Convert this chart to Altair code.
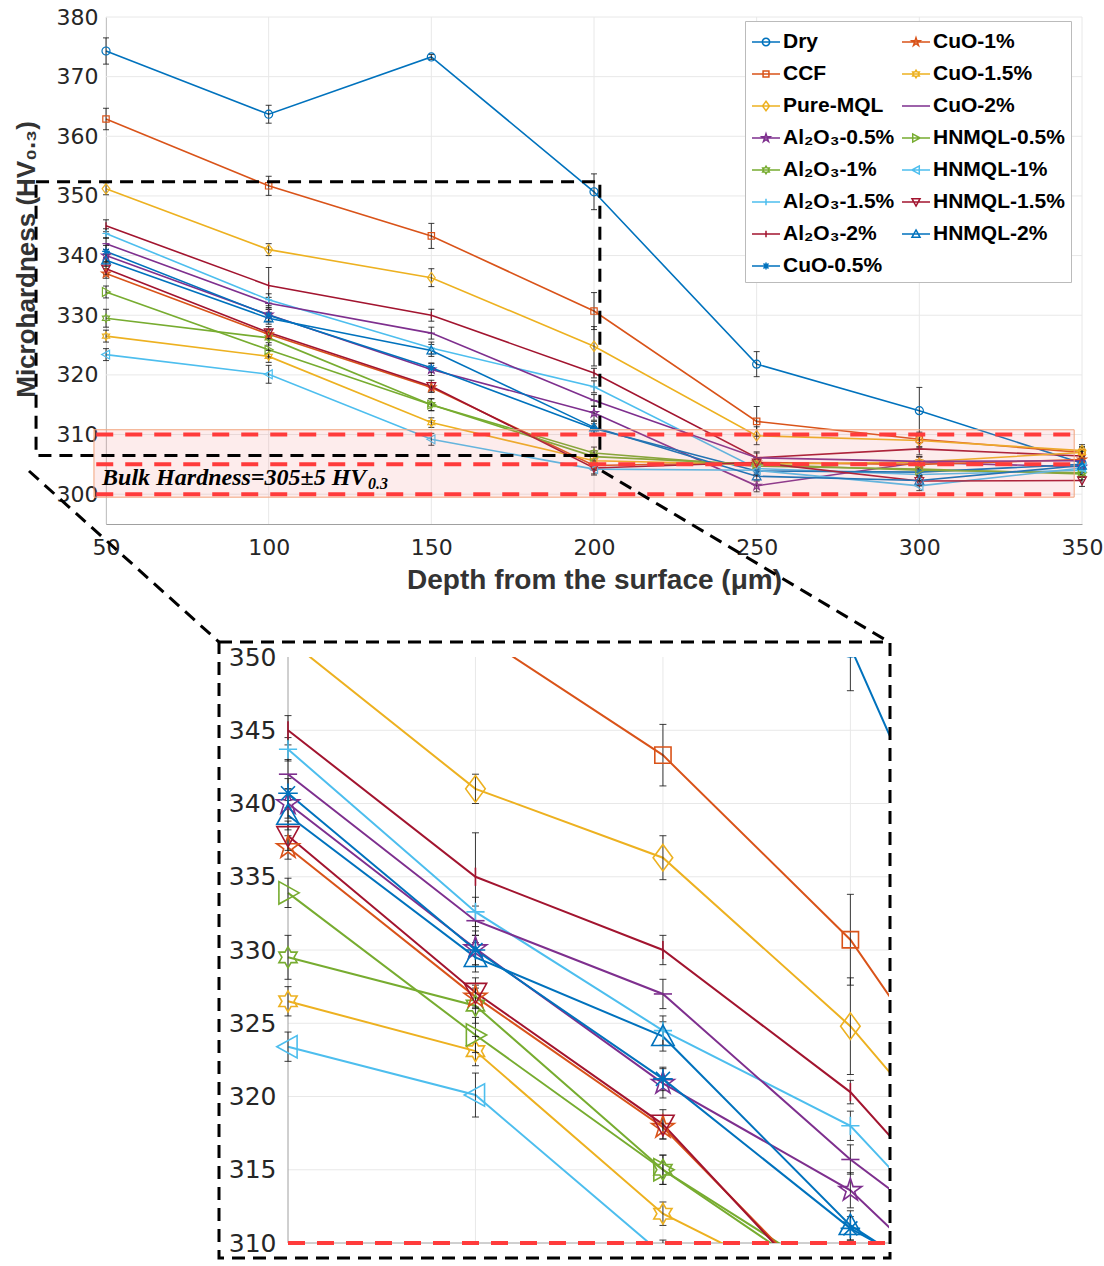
import math
import altair as alt
import pandas as pd

# ---------------- data ----------------
depth = [50, 100, 150, 200, 250, 300, 350]

names = ["Dry", "CCF", "Pure-MQL", "Al₂O₃-0.5%", "Al₂O₃-1%", "Al₂O₃-1.5%", "Al₂O₃-2%",
         "CuO-0.5%", "CuO-1%", "CuO-1.5%", "CuO-2%",
         "HNMQL-0.5%", "HNMQL-1%", "HNMQL-1.5%", "HNMQL-2%"]

dry      = [374.3, 363.7, 373.3, 350.7, 321.8, 314.0, 305.2]
ccf      = [362.9, 351.7, 343.3, 330.7, 312.2, 309.2, 307.0]
pure_mql = [351.2, 341.0, 336.3, 324.8, 309.8, 309.0, 307.3]
al_05    = [340.0, 330.1, 320.9, 313.6, 301.4, 305.3, 304.6]
al_1     = [329.5, 326.2, 315.0, 306.9, 304.7, 304.2, 303.4]
al_15    = [343.7, 332.6, 324.5, 318.0, 304.3, 303.3, 304.0]
al_2     = [345.0, 335.0, 330.0, 320.3, 306.1, 307.6, 306.4]
cuo_05   = [340.7, 330.0, 321.2, 311.0, 303.9, 303.7, 305.0]
cuo_1    = [337.0, 326.8, 317.9, 304.8, 305.3, 305.0, 305.8]
cuo_15   = [326.5, 323.1, 312.0, 305.6, 305.0, 305.4, 307.0]
cuo_2    = [342.0, 332.0, 327.0, 315.7, 306.1, 305.5, 305.6]
hn_05    = [333.9, 324.2, 315.0, 306.3, 305.0, 304.0, 303.6]
hn_1     = [323.4, 320.1, 309.2, 304.2, 304.0, 301.4, 304.4]
hn_15    = [337.8, 327.1, 318.1, 304.4, 305.3, 302.2, 302.3]
hn_2     = [339.2, 329.5, 324.1, 311.2, 303.0, 302.3, 304.8]

dry_err      = [2.2, 1.5, 0.4, 3.0, 2.1, 3.9, 2.0]
ccf_err      = [1.8, 1.6, 2.1, 3.1, 2.5, 1.2, 1.0]
pure_mql_err = [1.0, 1.0, 1.5, 3.3, 1.5, 1.2, 1.0]
al_05_err    = [1.0, 1.2, 1.0, 1.2, 1.0, 1.0, 1.0]
al_1_err     = [1.5, 1.2, 1.0, 1.0, 1.0, 1.0, 1.0]
al_15_err    = [0.8, 1.0, 1.0, 1.0, 1.0, 1.0, 1.0]
al_2_err     = [1.0, 3.0, 1.0, 0.8, 1.0, 1.0, 1.0]
cuo_05_err   = [1.0, 1.0, 0.8, 0.8, 0.8, 0.8, 0.8]
cuo_1_err    = [0.8, 0.8, 0.8, 0.8, 0.8, 0.8, 0.8]
cuo_15_err   = [1.0, 1.0, 0.8, 0.8, 0.8, 0.8, 0.8]
cuo_2_err    = [1.0, 1.0, 1.0, 1.0, 0.8, 0.8, 0.8]
hn_05_err    = [1.0, 1.2, 1.0, 1.0, 0.8, 0.8, 0.8]
hn_1_err     = [1.0, 1.5, 1.0, 1.0, 0.8, 0.8, 0.8]
hn_15_err    = [1.0, 1.0, 1.0, 1.0, 0.8, 0.8, 1.0]
hn_2_err     = [1.0, 1.0, 1.0, 1.0, 0.8, 0.8, 0.8]

values = [dry, ccf, pure_mql, al_05, al_1, al_15, al_2, cuo_05, cuo_1, cuo_15, cuo_2,
          hn_05, hn_1, hn_15, hn_2]
errors = [dry_err, ccf_err, pure_mql_err, al_05_err, al_1_err, al_15_err, al_2_err,
          cuo_05_err, cuo_1_err, cuo_15_err, cuo_2_err, hn_05_err, hn_1_err, hn_15_err, hn_2_err]

main_yticks = [300, 310, 320, 330, 340, 350, 360, 370, 380]
inset_yticks = [310, 315, 320, 325, 330, 335, 340, 345, 350]
bulk_levels = [300, 305, 310]

# ---------------- styles ----------------
C_BLUE, C_ORANGE, C_YELLOW, C_PURPLE = "#0072BD", "#D95319", "#EDB120", "#7E2F8E"
C_GREEN, C_LBLUE, C_RED = "#77AC30", "#4DBEEE", "#A2142F"
colors = [C_BLUE, C_ORANGE, C_YELLOW, C_PURPLE, C_GREEN, C_LBLUE, C_RED,
          C_BLUE, C_ORANGE, C_YELLOW, C_PURPLE, C_GREEN, C_LBLUE, C_RED, C_BLUE]
markers = ["o", "s", "d", "p", "h", "+", "|", "*", "p", "h", "_", ">", "<", "v", "^"]


def _f(v):
    return f"{v:.3f}"


def poly(pts, k):
    return "M" + "L".join(f"{_f(x * k)},{_f(y * k)}" for x, y in pts) + "Z"


def seg(x1, y1, x2, y2, k):
    return f"M{_f(x1 * k)},{_f(y1 * k)}L{_f(x2 * k)},{_f(y2 * k)}"


def circ(r, k):
    r = r * k
    return f"M{_f(r)},0A{_f(r)},{_f(r)} 0 1,1 {_f(-r)},0A{_f(r)},{_f(r)} 0 1,1 {_f(r)},0Z"


def star(n, ro, ri):
    pts = []
    for i in range(2 * n):
        a = -math.pi / 2 + i * math.pi / n
        r = ro if i % 2 == 0 else ri
        pts.append((r * math.cos(a), r * math.sin(a)))
    return pts


def marker_path(kind, k=1.0):
    if kind == "o":
        return circ(0.73, k)
    if kind == "s":
        return poly([(-.58, -.58), (.58, -.58), (.58, .58), (-.58, .58)], k)
    if kind == "d":
        return poly([(0, -.95), (.7, 0), (0, .95), (-.7, 0)], k)
    if kind == "p":
        return poly(star(5, .85, .85 * .382), k)
    if kind == "h":
        return poly(star(6, .75, .75 * .577), k)
    if kind == "+":
        return seg(-.65, 0, .65, 0, k) + seg(0, -.65, 0, .65, k)
    if kind == "|":
        return seg(0, -.65, 0, .65, k)
    if kind == "_":
        return seg(-.65, 0, .65, 0, k)
    if kind == "*":
        return (seg(-.7, 0, .7, 0, k) + seg(0, -.7, 0, .7, k)
                + seg(-.5, -.5, .5, .5, k) + seg(-.5, .5, .5, -.5, k))
    if kind == ">":
        return poly([(.8, 0), (-.65, -.8), (-.65, .8)], k)
    if kind == "<":
        return poly([(-.8, 0), (.65, -.8), (.65, .8)], k)
    if kind == "v":
        return poly([(0, .8), (.8, -.65), (-.8, -.65)], k)
    if kind == "^":
        return poly([(0, -.8), (.8, .65), (-.8, .65)], k)
    return circ(0.7, k)


rows = []
for i, nm in enumerate(names):
    for d, v, e in zip(depth, values[i], errors[i]):
        rows.append({"series": nm, "depth": d, "value": v, "lo": v - e, "hi": v + e,
                     "color": colors[i], "shape": marker_path(markers[i])})
df = pd.DataFrame(rows)

# legend: Vega fills the two columns top-to-bottom, as in the picture
legend_order = list(names)
legend_colors = [colors[names.index(n)] for n in legend_order]
legend_shapes = ["M-1,0L1,0" + marker_path(markers[names.index(n)], 0.36) for n in legend_order]
legend_df = pd.DataFrame({"series": names})

# ---------------- scales and axes ----------------
LABEL_COLOR = "#262626"
DOMAIN_COLOR = "#a0a0a0"
GRID_COLOR = "#e8e8e8"
NO_VIEW = alt.ViewBackground(stroke="transparent", strokeWidth=0)

xs_main = alt.Scale(domain=[50, 350], nice=False, zero=False)
ys_main = alt.Scale(domain=[295, 380], nice=False, zero=False)

ax_main_x = alt.Axis(title="Depth from the surface (μm)", values=depth, grid=False, ticks=False,
                     labelFlush=False, labelPadding=13, labelFontSize=22, labelFont="DejaVu Sans",
                     labelColor=LABEL_COLOR, domainColor=DOMAIN_COLOR, titleFontSize=28,
                     titleFont="Liberation Sans", titleFontWeight="bold", titleColor="#333333",
                     titlePadding=8, format="d")
ax_main_y = alt.Axis(title="Microhardness (HV₀.₃)", values=main_yticks, grid=False, ticks=False,
                     labelFlush=False, labelPadding=8, labelFontSize=22, labelFont="DejaVu Sans",
                     labelColor=LABEL_COLOR, domainColor=DOMAIN_COLOR, titleFontSize=26,
                     titleFont="Liberation Sans", titleFontWeight="bold", titleColor="#333333",
                     titleX=-80, titleY=242, titleAngle=270, titleBaseline="middle",
                     titleAlign="center", format="d")

XM = lambda f: alt.X(f, type="quantitative", scale=xs_main, axis=ax_main_x)
YM = lambda f: alt.Y(f, type="quantitative", scale=ys_main, axis=ax_main_y)

W_MAIN, H_MAIN = 976, 507

# grid
gv_df = pd.DataFrame({"gx": depth, "y0": 295, "y1": 380})
gh_df = pd.DataFrame({"gy": main_yticks, "x0": 50, "x1": 350})
grid_v = alt.Chart(gv_df).mark_rule(color=GRID_COLOR, strokeWidth=1).encode(
    x=XM("gx"), y=YM("y0"), y2="y1")
grid_h = alt.Chart(gh_df).mark_rule(color=GRID_COLOR, strokeWidth=1).encode(
    y=YM("gy"), x=XM("x0"), x2="x1")

lines_m = alt.Chart(df).mark_line(strokeWidth=1.6).encode(
    x=XM("depth"), y=YM("value"),
    color=alt.Color("color:N", scale=None), detail="series:N")
err_m = alt.Chart(df).mark_rule(color="#1a1a1a", strokeWidth=1, opacity=0.85).encode(
    x=XM("depth"), y=YM("lo"), y2="hi")
cap_lo_m = alt.Chart(df).mark_tick(orient="horizontal", size=6, thickness=1, color="#1a1a1a",
                                   opacity=0.85).encode(x=XM("depth"), y=YM("lo"))
cap_hi_m = alt.Chart(df).mark_tick(orient="horizontal", size=6, thickness=1, color="#1a1a1a",
                                   opacity=0.85).encode(x=XM("depth"), y=YM("hi"))
pts_m = alt.Chart(df).mark_point(filled=False, strokeWidth=1.2, size=121, opacity=1).encode(
    x=XM("depth"), y=YM("value"),
    color=alt.Color("color:N", scale=None), shape=alt.Shape("shape:N", scale=None))

band_df = pd.DataFrame({"x0": [46.3], "x1": [347.6], "y0": [299.5], "y1": [310.8]})
band = alt.Chart(band_df).mark_rect(fill="#f08080", fillOpacity=0.15, stroke="#f2a37c",
                                    strokeWidth=1).encode(x=XM("x0"), x2="x1", y=YM("y0"), y2="y1")
bulk_df = pd.DataFrame({"level": bulk_levels, "x0": 47.0, "x1": 347.6})
bulk = alt.Chart(bulk_df).mark_rule(color="#ff3b3b", strokeWidth=4, strokeDash=[17, 12]).encode(
    y=YM("level"), x=XM("x0"), x2="x1")

box_df = pd.DataFrame({"x0": [28.5], "x1": [201.8], "y0": [306.5], "y1": [352.4]})
zoom_box = alt.Chart(box_df).mark_rect(fillOpacity=0, stroke="black", strokeWidth=3,
                                       strokeDash=[13, 8]).encode(
    x=XM("x0"), x2="x1", y=YM("y0"), y2="y1")

one = pd.DataFrame({"a": [0]})
conn_l = alt.Chart(one).mark_rule(color="black", strokeWidth=3, strokeDash=[13, 8]).encode(
    x=alt.value(-77), y=alt.value(454), x2=alt.value(113), y2=alt.value(625))
conn_r = alt.Chart(one).mark_rule(color="black", strokeWidth=3, strokeDash=[13, 8]).encode(
    x=alt.value(496), y=alt.value(454), x2=alt.value(783), y2=alt.value(625))

ann_df = pd.DataFrame({"x": [48.8], "y": [301.54], "t": ["Bulk Hardness=305±5 HV"]})
sub_df = pd.DataFrame({"x": [130.5], "y": [300.87], "t": ["0.3"]})
ann = alt.Chart(ann_df).mark_text(font="Liberation Serif", fontStyle="italic", fontWeight="bold",
                                  fontSize=24, align="left", baseline="alphabetic",
                                  color="black").encode(x=XM("x"), y=YM("y"), text="t:N")
ann_sub = alt.Chart(sub_df).mark_text(font="Liberation Serif", fontStyle="italic",
                                      fontWeight="bold", fontSize=16, align="left",
                                      baseline="alphabetic", color="black").encode(
    x=XM("x"), y=YM("y"), text="t:N")

leg = alt.Legend(title=None, orient="none", legendX=639, legendY=4, columns=2,
                 columnPadding=4, rowPadding=7, labelOffset=2, padding=6,
                 fillColor="white", strokeColor="#bbbbbb", symbolSize=784,
                 symbolStrokeWidth=1.5, labelFont="Liberation Sans", labelFontWeight="bold",
                 labelFontSize=21, labelColor="black", labelLimit=300)
legend_layer = alt.Chart(legend_df).mark_point(filled=False, strokeWidth=1.5).encode(
    color=alt.Color("series:N", scale=alt.Scale(domain=legend_order, range=legend_colors),
                    legend=leg, sort=legend_order),
    shape=alt.Shape("series:N", scale=alt.Scale(domain=legend_order, range=legend_shapes),
                    legend=leg, sort=legend_order),
).transform_filter("false")

main = alt.layer(grid_v, grid_h, lines_m, err_m, cap_lo_m, cap_hi_m, pts_m, band, bulk,
                 zoom_box, conn_l, conn_r, ann, ann_sub, legend_layer).properties(
    width=W_MAIN, height=H_MAIN, view=NO_VIEW)

# ---------------- inset ----------------
IN_X_MAX = 210.3
W_IN, H_IN = 783, 586
xs_in = alt.Scale(domain=[50, IN_X_MAX], range=[182, 783], nice=False, zero=False)
ys_in = alt.Scale(domain=[310, 350], nice=False, zero=False)
ax_in_x = alt.Axis(title=None, labels=False, ticks=False, grid=False, domain=False)
ax_in_y = alt.Axis(title=None, values=inset_yticks, grid=False, ticks=False, offset=-182,
                   domain=False, labelFlush=False, labelPadding=12, labelFontSize=25,
                   labelFont="DejaVu Sans", labelColor=LABEL_COLOR, format="d")
XI = lambda f: alt.X(f, type="quantitative", scale=xs_in, axis=ax_in_x)
YI = lambda f: alt.Y(f, type="quantitative", scale=ys_in, axis=ax_in_y)

in_xgrid = [d for d in depth if 50 < d <= IN_X_MAX]
igv_df = pd.DataFrame({"gx": in_xgrid, "y0": 310, "y1": 350})
igh_df = pd.DataFrame({"gy": [t for t in inset_yticks if 310 < t < 350], "x0": 50, "x1": IN_X_MAX})
igrid_v = alt.Chart(igv_df).mark_rule(color=GRID_COLOR, strokeWidth=1).encode(
    x=XI("gx"), y=YI("y0"), y2="y1")
igrid_h = alt.Chart(igh_df).mark_rule(color=GRID_COLOR, strokeWidth=1).encode(
    y=YI("gy"), x=XI("x0"), x2="x1")
# inset axis lines (left and bottom)
iax_df = pd.DataFrame({"x0": [50], "x1": [IN_X_MAX], "y0": [310], "y1": [350]})
iax_left = alt.Chart(iax_df).mark_rule(color=DOMAIN_COLOR, strokeWidth=1).encode(
    x=XI("x0"), y=YI("y0"), y2="y1")
iax_bottom = alt.Chart(iax_df).mark_rule(color=DOMAIN_COLOR, strokeWidth=1).encode(
    y=YI("y0"), x=XI("x0"), x2="x1")

lines_i = alt.Chart(df).mark_line(strokeWidth=2, clip=True).encode(
    x=XI("depth"), y=YI("value"),
    color=alt.Color("color:N", scale=None), detail="series:N")
err_i = alt.Chart(df).mark_rule(color="#1a1a1a", strokeWidth=1, opacity=0.85, clip=True).encode(
    x=XI("depth"), y=YI("lo"), y2="hi")
cap_lo_i = alt.Chart(df).mark_tick(orient="horizontal", size=7, thickness=1, color="#1a1a1a",
                                   opacity=0.85, clip=True).encode(x=XI("depth"), y=YI("lo"))
cap_hi_i = alt.Chart(df).mark_tick(orient="horizontal", size=7, thickness=1, color="#1a1a1a",
                                   opacity=0.85, clip=True).encode(x=XI("depth"), y=YI("hi"))
pts_i = alt.Chart(df).mark_point(filled=False, strokeWidth=1.6, size=784, opacity=1,
                                 clip=True).encode(
    x=XI("depth"), y=YI("value"),
    color=alt.Color("color:N", scale=None), shape=alt.Shape("shape:N", scale=None))
ibulk_df = pd.DataFrame({"level": [310], "x0": 50, "x1": IN_X_MAX})
ibulk = alt.Chart(ibulk_df).mark_rule(color="#ff3b3b", strokeWidth=4, strokeDash=[17, 12]).encode(
    y=YI("level"), x=XI("x0"), x2="x1")
frame = alt.Chart(one).mark_rect(fillOpacity=0, stroke="black", strokeWidth=3,
                                 strokeDash=[13, 8]).encode(
    x=alt.value(113), x2=alt.value(784), y=alt.value(-15), y2=alt.value(601))

inset = alt.layer(igrid_v, igrid_h, iax_left, iax_bottom, lines_i, err_i, cap_lo_i, cap_hi_i,
                  pts_i, ibulk, frame).properties(width=W_IN, height=H_IN, view=NO_VIEW)

chart = alt.vconcat(main, inset, spacing=133, bounds="flush").resolve_scale(
    color="independent", shape="independent").properties(
    padding={"left": 13, "top": 6, "right": 0, "bottom": 0},
    background="white",
).configure_view(stroke="transparent", strokeWidth=0).configure(font="Liberation Sans")

chart.save("out.html", embed_options={"renderer": "svg", "actions": False})
